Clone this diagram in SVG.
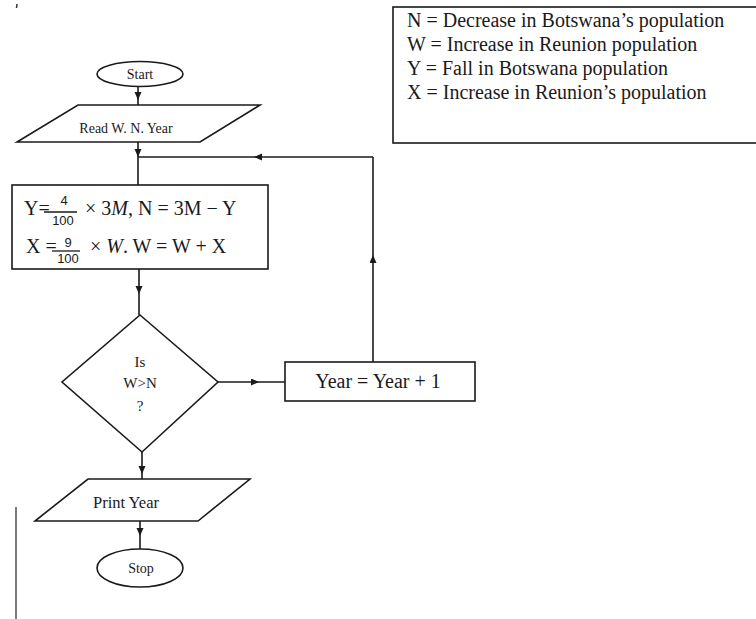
<svg xmlns="http://www.w3.org/2000/svg" width="756" height="619" viewBox="0 0 756 619">
<style>
.s{fill:#fff;stroke:#1a1a1a;stroke-width:1.6}
.c{fill:none;stroke:#1a1a1a;stroke-width:1.6;marker-mid:url(#ah)}
.t{font-family:"Liberation Serif",serif;fill:#1a1a1a}
.m{font-family:"Liberation Serif",serif;fill:#1a1a1a;font-size:20px}
.f{font-family:"Liberation Sans",sans-serif;fill:#1a1a1a;font-size:13px}
.b{stroke:#1a1a1a;stroke-width:1.3}
</style>
<defs>
<marker id="ah" markerWidth="8" markerHeight="8" refX="4" refY="3.5" orient="auto" markerUnits="userSpaceOnUse">
<path d="M0,0 L8,3.5 L0,7 Z" fill="#1a1a1a"/>
</marker>
</defs>
<rect width="756" height="619" fill="#fff"/>

<g id="legend">
<rect x="393" y="7" width="370" height="136" class="s"/>
<text class="t" font-size="20" x="407" y="27">N = Decrease in Botswana’s population</text>
<text class="t" font-size="20" x="407" y="51">W = Increase in Reunion population</text>
<text class="t" font-size="20" x="407" y="75">Y = Fall in Botswana population</text>
<text class="t" font-size="20" x="407" y="99">X = Increase in Reunion’s population</text>
</g>

<g id="connectors">
<path class="c" d="M138,87 L138,96 L138,105"/>
<path class="c" d="M138,142 L138,153 L138,185"/>
<path class="c" d="M373,362 L373,259 L373,157"/>
<path class="c" d="M373,157 L258,157 L138,157"/>
<path class="c" d="M139,269 L139,290 L139,315"/>
<path class="c" d="M218,382 L255,382 L285,382"/>
<path class="c" d="M142,452 L142,470 L142,479"/>
<path class="c" d="M140,521 L140,532 L140,549"/>
</g>

<g id="start">
<ellipse cx="140" cy="74" rx="43" ry="12.5" class="s"/>
<text class="t" font-size="14" x="140" y="79" text-anchor="middle">Start</text>
</g>

<g id="read">
<polygon points="78,105 260,105 200,142 17,142" class="s"/>
<text class="t" font-size="14" x="126" y="133" text-anchor="middle">Read W. N. Year</text>
</g>

<g id="process">
<rect x="12" y="185" width="256" height="84" class="s"/>
<text class="m" x="24" y="215">Y=</text>
<text class="f" x="64" y="205" text-anchor="middle">4</text>
<line x1="44" y1="212" x2="77" y2="212" class="b"/>
<text class="f" x="63" y="225" text-anchor="middle">100</text>
<text class="m" x="85" y="215">× 3<tspan font-style="italic">M</tspan>, N = 3M − Y</text>
<text class="m" x="26" y="253">X =</text>
<text class="f" x="68" y="247" text-anchor="middle">9</text>
<line x1="52" y1="251" x2="80" y2="251" class="b"/>
<text class="f" x="68" y="263" text-anchor="middle">100</text>
<text class="m" x="90" y="253">× <tspan font-style="italic">W</tspan>. W = W + X</text>
</g>

<g id="decision">
<polygon points="140,315 218,382 142,452 62,382" class="s"/>
<text class="t" font-size="15" x="140" y="367" text-anchor="middle">Is</text>
<text class="t" font-size="15" x="140" y="388" text-anchor="middle">W&gt;N</text>
<text class="t" font-size="15" x="140" y="411" text-anchor="middle">?</text>
</g>

<g id="increment">
<rect x="285" y="362" width="190" height="39" class="s"/>
<text class="t" font-size="20" x="378" y="388" text-anchor="middle">Year = Year + 1</text>
</g>

<g id="print">
<polygon points="88,479 250,479 198,521 35,521" class="s"/>
<text class="t" font-size="16.5" x="126" y="508" text-anchor="middle">Print Year</text>
</g>

<g id="stop">
<ellipse cx="140" cy="568" rx="43" ry="19" class="s"/>
<text class="t" font-size="14" x="141" y="573" text-anchor="middle">Stop</text>
</g>

<line x1="16" y1="507" x2="16" y2="619" stroke="#333" stroke-width="1.3"/>
<line x1="17" y1="4" x2="16.5" y2="8" stroke="#333" stroke-width="1.5"/>
</svg>
